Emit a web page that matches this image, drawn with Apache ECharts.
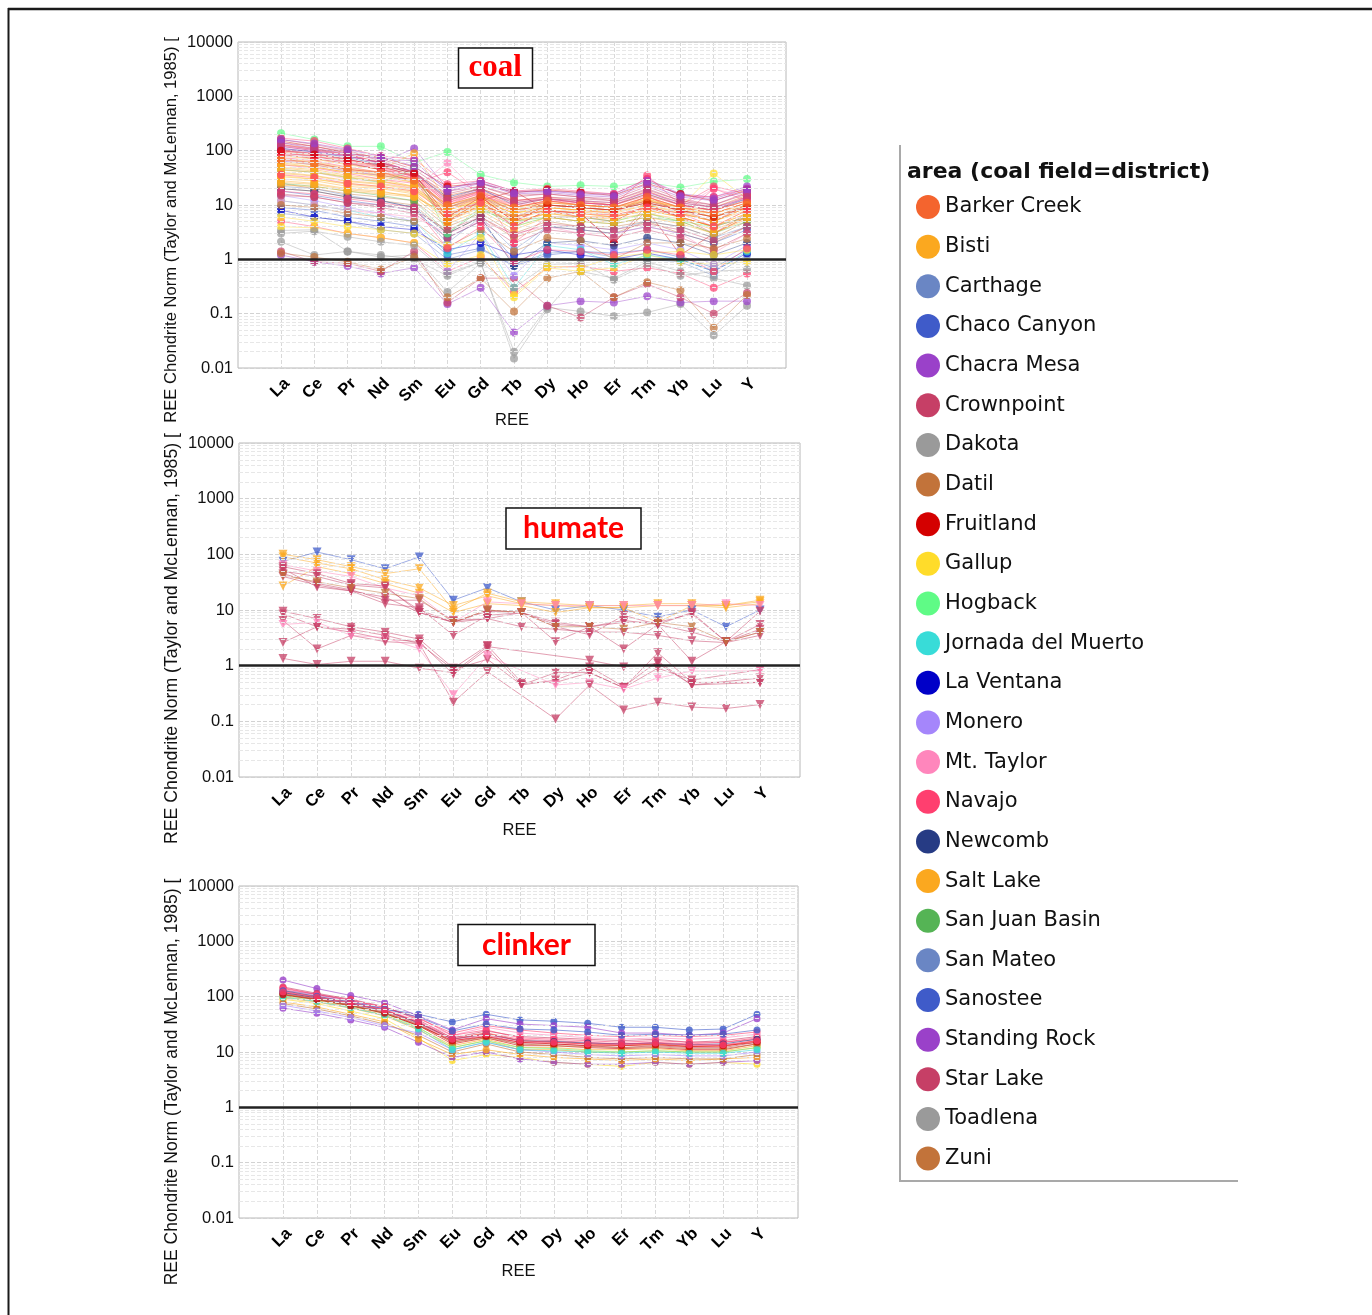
<!DOCTYPE html>
<html>
<head>
<meta charset="utf-8">
<script src="https://cdn.jsdelivr.net/npm/echarts@6/dist/echarts.min.js"></script>
<style>
html, body { margin: 0; padding: 0; background: #fff; }
#chart { width: 1372px; height: 1315px; }
</style>
</head>
<body>
<div id="chart"></div>
<script>
// Rare earth elements on the category axis
const ree = ['La', 'Ce', 'Pr', 'Nd', 'Sm', 'Eu', 'Gd', 'Tb', 'Dy', 'Ho', 'Er', 'Tm', 'Yb', 'Lu', 'Y'];

// Log-axis decade ticks
const decadeTicks = [0.01, 0.1, 1, 10, 100, 1000, 10000];

// Areas (coal field = district) and their colours
const areaNames = ['Barker Creek', 'Bisti', 'Carthage', 'Chaco Canyon', 'Chacra Mesa', 'Crownpoint', 'Dakota',
  'Datil', 'Fruitland', 'Gallup', 'Hogback', 'Jornada del Muerto', 'La Ventana', 'Monero', 'Mt. Taylor',
  'Navajo', 'Newcomb', 'Salt Lake', 'San Juan Basin', 'San Mateo', 'Sanostee', 'Standing Rock', 'Star Lake',
  'Toadlena', 'Zuni'];
const areaColors = ['#f4642e', '#fba81f', '#6a86c4', '#3f5bc9', '#9a41c9', '#c63f66', '#9a9a9a',
  '#c2733a', '#d40000', '#ffdc2a', '#5ffb86', '#38dcd8', '#0000c8', '#a586fb', '#ff86bc',
  '#ff3f6f', '#263b84', '#fba81f', '#55b455', '#6a86c4', '#3f5bc9', '#9a41c9', '#c63f66',
  '#9a9a9a', '#c2733a'];

// Coal samples (chondrite normalised)
const coalArea = ['Hogback', 'Chacra Mesa', 'Navajo', 'Fruitland', 'Crownpoint', 'Barker Creek', 'Bisti', 'Salt Lake', 'Navajo', 'Newcomb',
  'Star Lake', 'Fruitland', 'Bisti', 'Salt Lake', 'Bisti', 'Zuni', 'Datil', 'Gallup', 'Mt. Taylor', 'Navajo',
  'Carthage', 'Chaco Canyon', 'La Ventana', 'Dakota', 'Toadlena', 'Chacra Mesa', 'Crownpoint', 'Datil', 'Navajo', 'Gallup',
  'Monero', 'Jornada del Muerto', 'San Juan Basin', 'Sanostee', 'San Mateo', 'Standing Rock', 'Star Lake', 'Navajo', 'Barker Creek', 'Bisti',
  'Salt Lake', 'Fruitland', 'Mt. Taylor', 'Crownpoint', 'Newcomb', 'Dakota', 'Zuni', 'Hogback', 'Navajo', 'Gallup',
  'Bisti', 'Salt Lake', 'Bisti', 'Navajo', 'Crownpoint', 'Standing Rock', 'Salt Lake', 'Bisti', 'Navajo', 'Chacra Mesa',
  'Navajo', 'Bisti', 'Salt Lake', 'Crownpoint', 'Fruitland', 'Barker Creek', 'Bisti', 'Navajo', 'Star Lake', 'Standing Rock'];
const coalREE = [
  [210, 160, 120, 120, 60, 95, 36, 26, 22, 23, 22, 26, 21, 27, 30],
  [120, 100, 80, 60, 110, 20, 28, 18, 18, 17, 16, 30, 16, 14, 22],
  [170, 150, 110, 80, 70, 24, 28, 18, 20, 18, 16, 30, 15, 14, 20],
  [150, 120, 90, 75, 50, 22, 25, 17, 19, 17, 15, 25, 16, 12, 19],
  [160, 130, 100, 70, 45, 18, 22, 15, 16, 14, 13, 22, 13, 10, 17],
  [130, 110, 85, 60, 40, 15, 20, 12, 14, 12, 11, 18, 11, 9, 15],
  [80, 70, 55, 45, 90, 12, 18, 9, 12, 10, 9, 14, 9, 8, 12],
  [60, 50, 40, 35, 30, 10, 15, 8, 10, 9, 8, 12, 8, 6, 10],
  [100, 90, 70, 50, 35, 8, 14, 5, 9, 8, 7, 15, 7, 5, 9],
  [110, 95, 75, 55, 38, 14, 20, 10, 13, 11, 10, 16, 10, 8, 13],
  [90, 80, 60, 45, 30, 6, 12, 4, 8, 7, 2, 10, 6, 3, 7],
  [70, 60, 45, 40, 28, 5, 10, 6, 8, 7, 2, 8, 1.2, 3, 6],
  [50, 45, 35, 30, 22, 7, 12, 6, 9, 8, 7, 10, 7, 5, 9],
  [40, 35, 28, 25, 20, 6, 10, 5, 7, 7, 6, 9, 6, 4, 8],
  [30, 28, 22, 20, 16, 5, 9, 4, 6, 5, 5, 7, 5, 3, 6],
  [25, 20, 16, 14, 12, 4, 7, 3, 5, 4, 4, 5, 4, 2.5, 5],
  [20, 18, 14, 12, 10, 3, 6, 2.5, 4, 3.5, 3, 5, 3, 2, 4],
  [35, 30, 25, 22, 18, 8, 12, 7, 9, 8, 8, 12, 9, 38, 13],
  [45, 40, 30, 27, 20, 60, 15, 10, 11, 10, 9, 12, 9, 20, 14],
  [55, 48, 38, 30, 25, 40, 16, 12, 13, 11, 10, 35, 10, 22, 16],
  [7, 6, 5, 3.5, 3, 1, 1.5, 0.8, 1.3, 1.4, 1.1, 1, 0.9, 0.5, 1.2],
  [9, 8, 6, 5, 4, 1.2, 1.6, 0.75, 1.2, 1.4, 1.3, 1.5, 1.1, 0.7, 1.5],
  [8, 6, 5, 4, 3.5, 1.5, 2, 1.2, 1.5, 1.2, 1, 1.3, 1, 0.6, 1.3],
  [2.1, 1.2, 1.4, 1.1, 1.2, 0.25, 0.85, 0.02, 0.13, 0.11, 0.09, 0.105, 0.15, 0.04, 0.14],
  [3.4, 3.5, 1.4, 1.2, 1, 0.5, 0.9, 0.015, 0.12, 0.6, 0.45, 0.9, 0.6, 0.45, 0.33],
  [1.2, 0.9, 0.75, 0.55, 0.7, 0.15, 0.3, 0.045, 0.14, 0.17, 0.16, 0.21, 0.16, 0.17, 0.17],
  [1.4, 0.9, 0.85, 0.6, 1.4, 0.16, 0.45, 0.45, 0.14, 0.085, 0.2, 0.35, 0.2, 0.1, 0.24],
  [1.3, 1.1, 0.9, 0.65, 1.1, 0.2, 0.45, 0.11, 0.45, 0.6, 0.2, 0.38, 0.27, 0.055, 0.22],
  [5, 4, 3, 2.5, 2, 0.6, 1.1, 0.25, 0.7, 0.75, 0.6, 0.7, 0.55, 0.3, 0.55],
  [4, 3.8, 3, 2.5, 2, 0.8, 1.2, 0.2, 0.7, 0.6, 0.7, 1.2, 0.9, 0.8, 0.9],
  [15, 12, 9, 7, 5, 0.6, 3, 0.5, 2, 1.8, 1.5, 2, 1.5, 0.8, 1.8],
  [12, 10, 8, 6, 5, 1.3, 3, 0.3, 1.8, 1.5, 0.8, 1.2, 1, 0.6, 1.4],
  [25, 22, 18, 15, 12, 3, 8, 5, 6, 5, 4.5, 6, 5, 3, 5],
  [18, 15, 12, 10, 8, 2.5, 5, 1, 4, 3.5, 3, 4, 3, 2, 3.5],
  [22, 20, 15, 12, 9, 2, 6, 1.5, 4, 4, 3.5, 5, 4, 2.5, 4],
  [65, 55, 42, 35, 28, 9, 14, 8, 10, 9, 8, 11, 8, 6, 10],
  [140, 120, 95, 65, 40, 16, 22, 14, 16, 14, 12, 20, 12, 10, 16],
  [75, 65, 50, 40, 32, 11, 16, 9, 12, 10, 9, 14, 9, 7, 11],
  [95, 80, 65, 50, 36, 13, 18, 11, 13, 12, 10, 16, 10, 8, 12],
  [38, 34, 27, 24, 19, 9, 13, 8, 10, 9, 8, 11, 8, 6, 9],
  [28, 25, 20, 18, 14, 7, 10, 6, 8, 7, 6, 8, 6, 4, 7],
  [85, 72, 58, 45, 34, 5, 12, 18, 8, 6, 5, 10, 6, 4, 6],
  [12, 10, 8, 7, 6, 3, 5, 3, 4, 3, 3, 4, 3, 1.3, 3],
  [16, 14, 11, 9, 7, 2.5, 5, 2, 3.5, 3, 2.5, 3.5, 2.5, 1.5, 3],
  [20, 18, 14, 12, 9, 3, 6, 0.75, 2, 2.2, 1.8, 2.5, 2, 1.2, 2],
  [3, 3.3, 2.6, 2.1, 1.8, 0.55, 0.9, 0.3, 0.8, 0.85, 0.42, 0.8, 0.5, 0.6, 0.65],
  [10, 9, 7, 6, 5, 1.7, 3.5, 1.4, 2.5, 2.2, 1, 2, 2, 1.6, 2.4],
  [45, 40, 32, 26, 45, 3, 9, 4, 6, 6, 5, 7, 5, 4, 6],
  [130, 105, 85, 62, 40, 11, 18, 2, 6, 6, 6, 9, 6, 20, 12],
  [6, 5, 4, 3.5, 3, 1.8, 2.5, 0.22, 0.75, 0.7, 1.1, 1.3, 1.4, 1.2, 1.5],
  [62, 55, 44, 36, 26, 8, 13, 7, 10, 9, 8, 13, 8, 7, 10],
  [48, 42, 33, 28, 21, 6.5, 11, 5.5, 8, 7.5, 6.5, 9, 7, 5, 8],
  [33, 30, 24, 21, 17, 5.5, 9.5, 4.5, 7, 6, 6, 8, 6, 4, 7],
  [120, 100, 80, 58, 38, 10, 17, 7, 12, 11, 10, 18, 10, 8, 14],
  [105, 88, 70, 52, 34, 9, 15, 6, 10, 9, 8, 12, 8, 5, 10],
  [110, 95, 78, 60, 42, 12, 19, 11, 13, 12, 11, 17, 11, 9, 13],
  [72, 62, 48, 40, 30, 9, 14, 8, 11, 10, 9, 13, 9, 7, 11],
  [23, 22, 18, 16, 14, 4.5, 8, 3.5, 6, 5, 4.5, 6, 4.5, 3, 5.5],
  [18, 16, 13, 11, 9, 1.6, 4, 0.9, 1.5, 1.4, 1.2, 1.5, 1.2, 0.6, 1.6],
  [140, 110, 88, 70, 65, 18, 25, 16, 17, 15, 14, 24, 14, 12, 18],
  [90, 78, 62, 48, 33, 12, 17, 10, 13, 11, 10, 15, 10, 8, 12],
  [56, 50, 40, 33, 26, 10, 14, 9, 11, 10, 9, 12, 9, 6, 10],
  [44, 40, 32, 27, 22, 8, 12, 7, 9, 8, 7.5, 10, 7.5, 5, 9],
  [125, 105, 82, 60, 40, 13, 20, 12, 14, 13, 12, 19, 12, 9, 14],
  [100, 85, 68, 54, 38, 6, 14, 5, 10, 9, 8, 11, 8, 6, 9],
  [68, 58, 46, 38, 28, 10, 15, 9, 12, 10, 9, 14, 9, 7, 11],
  [26, 24, 19, 17, 15, 6, 9, 5, 7, 6, 5.5, 7, 5.5, 3.5, 6],
  [36, 32, 25, 22, 18, 7, 11, 4, 8, 7, 6.5, 9, 7, 4, 8],
  [15, 14, 11, 10, 8, 3.5, 6, 2.8, 4.5, 4, 3.5, 4.5, 3.5, 2.2, 4],
  [160, 135, 105, 78, 52, 20, 26, 17, 18, 16, 15, 28, 15, 13, 20]
];

// Humate samples
const humateArea = ['Chaco Canyon', 'Bisti', 'Salt Lake', 'Bisti', 'Mt. Taylor', 'Crownpoint', 'Crownpoint', 'Star Lake',
  'Crownpoint', 'Crownpoint', 'Crownpoint', 'Star Lake', 'Crownpoint', 'Mt. Taylor', 'Star Lake', 'Crownpoint', 'Datil'];
const humateREE = [
  [75, 110, 80, 55, 90, 15, 25, 14, 10, 12, 10, 7.5, 10, 5, 10],
  [100, 80, 60, 45, 55, 10, 20, 14, 13, 12, 12, 13, 13, 12, 15],
  [90, 70, 55, 35, 25, 12, 18, 13, 12, 11, 11, 12, 12, 12, 14],
  [27, 60, 45, 30, 20, 9, 13, 12, 9, 11, 11, 6, 12, 11, 13],
  [65, 50, 40, 25, 18, 6, 14, 13, 12, 12, 12, 12, 12, 13, 12],
  [60, 45, 30, 27, 9, 6, 7, 9, 2.7, 5, 2, 5.5, 1.2, 2.7, 4],
  [50, 40, 28, 25, 10, 6, 10, 9, 5.5, 5, 6, 6, 8.5, 2.7, 9.5],
  [45, 30, 23, 15, 15, 6.5, 7, 5, 4.5, 4, 4, 3.5, 2.8, 2.6, 3.5],
  [40, 28, 22, 13, 11, 3.5, 8, 9, 5, 3.6, 8, 5.5, 4, 2.7, 5.5],
  [55, 26, 22, 17, 9, 6, 9.5, 9, 6, 5, 6.5, 5.5, 9, 2.7, 4.5],
  [9.5, 7, 5, 4, 3, 0.9, 2.3, 0.5, 0.5, 0.75, 0.4, 1.7, 0.5, null, 0.5],
  [8.5, 5, 4, 3, 2.7, 0.7, 2, 0.45, 0.55, 0.95, 0.42, 1.2, 0.45, null, 0.6],
  [6.5, 2, 3.5, 2.7, 2.5, 0.85, 1.3, 0.45, 0.75, 0.75, 0.4, 0.9, 0.55, null, 0.85],
  [5.5, 6, 3.5, 3.2, 2, 0.3, 1.5, null, 0.45, 0.5, 0.38, 0.6, 0.8, null, 0.8],
  [2.6, 5, 4.5, 3.5, 2.5, 0.22, 0.78, null, 0.11, 0.45, 0.16, 0.22, 0.18, 0.17, 0.2],
  [1.35, 1.05, 1.2, 1.2, 0.9, 0.75, 2.2, null, null, 1.25, 0.95, 1.1, 0.45, null, 0.5],
  [42, 32, 25, 20, 16, 6, 10, 9, 5, 5, 4.5, 6, 5, 2.7, 4]
];

// Clinker samples
const clinkerArea = ['Chaco Canyon', 'Chacra Mesa', 'Navajo', 'Navajo', 'Navajo', 'Crownpoint', 'Fruitland', 'Barker Creek',
  'Bisti', 'Salt Lake', 'Star Lake', 'Mt. Taylor', 'Gallup', 'Chacra Mesa', 'Bisti', 'Zuni', 'Monero', 'Navajo',
  'Sanostee', 'Hogback', 'Datil', 'Jornada del Muerto', 'Newcomb', 'Fruitland', 'Navajo'];
const clinkerREE = [
  [130, 110, 85, 60, 48, 35, 48, 38, 36, 33, 28, 28, 25, 26, 48],
  [200, 140, 105, 78, 45, 25, 40, 32, 30, 28, 22, 22, 20, 22, 40],
  [140, 110, 85, 65, 40, 22, 30, 25, 22, 20, 19, 20, 19, 20, 23],
  [125, 100, 78, 58, 35, 18, 22, 17, 16, 15, 14, 15, 14, 15, 17],
  [120, 95, 75, 55, 33, 16, 20, 15, 15, 14, 13.5, 14, 13, 13, 16],
  [115, 92, 72, 52, 32, 15, 19, 14, 14, 13, 12, 13, 12, 12, 15],
  [110, 90, 70, 50, 30, 14, 18, 13, 13, 12, 11.5, 12, 11, 11, 14],
  [130, 100, 80, 58, 34, 17, 22, 16, 15, 14, 13, 14, 12.5, 12.5, 16],
  [100, 85, 65, 47, 27, 13, 17, 12, 12, 11, 11, 11.5, 10.5, 10.5, 13],
  [95, 80, 62, 45, 25, 12, 16, 11, 11, 10, 10, 10.5, 10, 10, 12],
  [150, 115, 90, 66, 38, 18, 24, 19, 18, 17, 16, 17, 15, 16, 19],
  [135, 105, 82, 60, 36, 20, 28, 22, 20, 18, 17, 18, 17, 18, 21],
  [90, 75, 55, 40, 18, 7, 9, 8, 6.5, 6, 5.5, 6.5, 6, 6.5, 6],
  [62, 50, 38, 28, 15, 8, 10, 7.5, 6.5, 6, 6, 6.5, 6, 6.5, 7],
  [80, 65, 48, 35, 17, 9, 11, 9, 8, 7.5, 7, 7.5, 7, 7.5, 8],
  [75, 60, 45, 32, 20, 10, 14, 10, 9, 8, 7.5, 8, 7.5, 7.5, 9],
  [70, 55, 42, 30, 22, 11, 15, 11, 10, 9, 8.5, 9, 8.5, 8.5, 10],
  [145, 110, 88, 63, 42, 20, 25, 18, 17, 16, 15, 16, 15, 15, 18],
  [128, 102, 80, 60, 43, 24, 32, 26, 25, 23, 20, 21, 20, 21, 25],
  [105, 88, 68, 50, 28, 12, 16, 12, 11.5, 10.5, 10, 10.5, 10, 10, 12],
  [112, 90, 70, 52, 31, 15, 18, 14, 13, 12.5, 12, 12.5, 11.5, 11.5, 14],
  [98, 82, 63, 46, 26, 11, 15, 11, 10.5, 10, 9.5, 10, 9.5, 9.5, 11],
  [118, 96, 75, 56, 34, 17, 21, 16, 15.5, 14.5, 14, 14.5, 13.5, 14, 17],
  [108, 88, 68, 50, 30, 16, 19, 15, 14, 13, 13, 13.5, 12.5, 13, 15],
  [122, 98, 77, 57, 35, 17, 21, 16, 15, 14, 14, 14.5, 13.5, 13.5, 16]
];

const yName = 'REE Chondrite Norm (Taylor and McLennan, 1985) [';
const axisFont = 'Liberation Sans';

// Light dashed minor lines at 2..9 within each decade
const minorLevels = [];
for (let d = 0; d < decadeTicks.length - 1; d++) {
  for (let m = 2; m <= 9; m++) minorLevels.push(+(m * decadeTicks[d]).toPrecision(3));
}

const panels = [
  { title: 'coal', area: coalArea, rows: coalREE,
    frame: { left: 238, top: 42, width: 548, height: 326 }, plot: { left: 281, width: 466 },
    symbol: 'circle', size: 8, rotate: 0, lineOpacity: 0.42, symbolOpacity: 0.72,
    nameSize: 16.6, nameShift: 50, xNameGap: 44 },
  { title: 'humate', area: humateArea, rows: humateREE,
    frame: { left: 239, top: 443, width: 561, height: 334 }, plot: { left: 283, width: 477 },
    symbol: 'triangle', size: 9, rotate: 180, lineOpacity: 0.5, symbolOpacity: 0.75,
    nameSize: 17.7, nameShift: 57, xNameGap: 45 },
  { title: 'clinker', area: clinkerArea, rows: clinkerREE,
    frame: { left: 239, top: 886, width: 559, height: 332 }, plot: { left: 283, width: 474 },
    symbol: 'circle', size: 7, rotate: 0, lineOpacity: 0.6, symbolOpacity: 0.8,
    nameSize: 17.5, nameShift: 60, xNameGap: 45 }
];

const colorOf = name => areaColors[areaNames.indexOf(name)];
const logLabel = v => String(+Number(v).toPrecision(4));

const grid = [], xAxis = [], yAxis = [], series = [];

panels.forEach((p, i) => {
  const fi = i * 2, pi = i * 2 + 1;
  grid.push({ left: p.frame.left, top: p.frame.top, width: p.frame.width, height: p.frame.height,
    show: true, borderColor: '#b8b8b8', borderWidth: 1, backgroundColor: 'transparent' });
  grid.push({ left: p.plot.left, top: p.frame.top, width: p.plot.width, height: p.frame.height, show: false });

  xAxis.push({ gridIndex: fi, type: 'value', min: 0, max: 1,
    axisLine: { show: false }, axisTick: { show: false }, axisLabel: { show: false }, splitLine: { show: false },
    name: 'REE', nameLocation: 'middle', nameGap: p.xNameGap,
    nameTextStyle: { fontFamily: axisFont, fontSize: 16.5, color: '#111' } });
  xAxis.push({ gridIndex: pi, type: 'category', data: ree, boundaryGap: false,
    axisLine: { show: false }, axisTick: { show: false },
    axisLabel: { interval: 0, rotate: 45, margin: 7, verticalAlign: 'top',
      fontFamily: axisFont, fontWeight: 'bold', fontSize: 16.5, color: '#000' },
    splitLine: { show: true, lineStyle: { type: 'dashed', color: '#d9d9d9', width: 1 } } });

  yAxis.push({ gridIndex: fi, type: 'log', logBase: 10, min: 0.01, max: 10000, splitNumber: 6,
    axisLine: { show: false }, axisTick: { show: false },
    axisLabel: { formatter: logLabel, margin: 5, fontFamily: axisFont, fontSize: 16.5, color: '#111' },
    splitLine: { show: true, lineStyle: { type: 'dashed', color: '#d2d2d2', width: 1 } },
    name: yName, nameLocation: 'middle', nameRotate: 90, nameGap: 58,
    nameTextStyle: { fontFamily: axisFont, fontSize: p.nameSize, color: '#111', padding: [0, p.nameShift, 0, 0] } });
  yAxis.push({ gridIndex: pi, type: 'log', logBase: 10, min: 0.01, max: 10000, show: false });

  // minor gridlines beneath the data
  series.push({ type: 'line', xAxisIndex: fi, yAxisIndex: fi, data: [], silent: true, z: 1,
    markLine: { silent: true, symbol: 'none', animation: false, label: { show: false },
      lineStyle: { type: 'dashed', color: '#e7e7e7', width: 1 },
      data: minorLevels.map(v => ({ yAxis: v })) } });

  p.rows.forEach((row, k) => {
    const c = colorOf(p.area[k]);
    series.push({ type: 'line', name: p.area[k], xAxisIndex: pi, yAxisIndex: pi, data: row,
      connectNulls: true, showAllSymbol: true, symbol: p.symbol, symbolSize: p.size, symbolRotate: p.rotate,
      lineStyle: { width: 1, color: c, opacity: p.lineOpacity },
      itemStyle: { color: c, opacity: p.symbolOpacity },
      emphasis: { disabled: true }, animation: false, z: 2 });
  });

  // chondrite = 1 reference line on top
  series.push({ type: 'line', xAxisIndex: fi, yAxisIndex: fi, data: [], silent: true, z: 5,
    markLine: { silent: true, symbol: 'none', animation: false, label: { show: false },
      lineStyle: { type: 'solid', color: '#222', width: 2.5 },
      data: [{ yAxis: 1 }] } });
});

const titleBox = (text, left, top, family, size, pad) => ({
  text, left, top, padding: pad, borderColor: '#111', borderWidth: 1.5, backgroundColor: '#fff',
  textStyle: { fontFamily: family, fontWeight: 'bold', fontSize: size, color: '#ff0000', lineHeight: size + 3 }
});

const option = {
  backgroundColor: '#fff',
  animation: false,
  title: [
    titleBox('coal', 458, 48, 'Liberation Serif', 31, [3, 10.5]),
    titleBox('humate', 506, 508, 'Lato', 30, [4, 17]),
    titleBox('clinker', 458, 924, 'Lato', 30, [4.5, 24]),
    { text: 'area (coal field=district)', left: 907, top: 160, padding: 0,
      textStyle: { fontFamily: 'DejaVu Sans', fontWeight: 'bold', fontSize: 22, color: '#111', lineHeight: 24 } }
  ],
  legend: {
    data: areaNames, orient: 'vertical', left: 916, top: 195, padding: 0,
    itemWidth: 24, itemHeight: 24, itemGap: 15.65, icon: 'circle',
    itemStyle: { opacity: 1 },
    textStyle: { fontFamily: 'DejaVu Sans', fontSize: 21, color: '#111', lineHeight: 24 }
  },
  graphic: [
    { type: 'line', shape: { x1: 8, y1: 9, x2: 1372, y2: 9 }, style: { stroke: '#1a1a1a', lineWidth: 2.5 } },
    { type: 'line', shape: { x1: 8.5, y1: 8, x2: 8.5, y2: 1315 }, style: { stroke: '#1a1a1a', lineWidth: 2 } },
    { type: 'polyline', shape: { points: [[900, 145], [900, 1181], [1238, 1181]] },
      style: { stroke: '#a9a9a9', lineWidth: 2, fill: null } }
  ],
  grid, xAxis, yAxis, series
};

const chart = echarts.init(document.getElementById('chart'), null, { renderer: 'canvas' });
chart.setOption(option);
</script>
</body>
</html>
